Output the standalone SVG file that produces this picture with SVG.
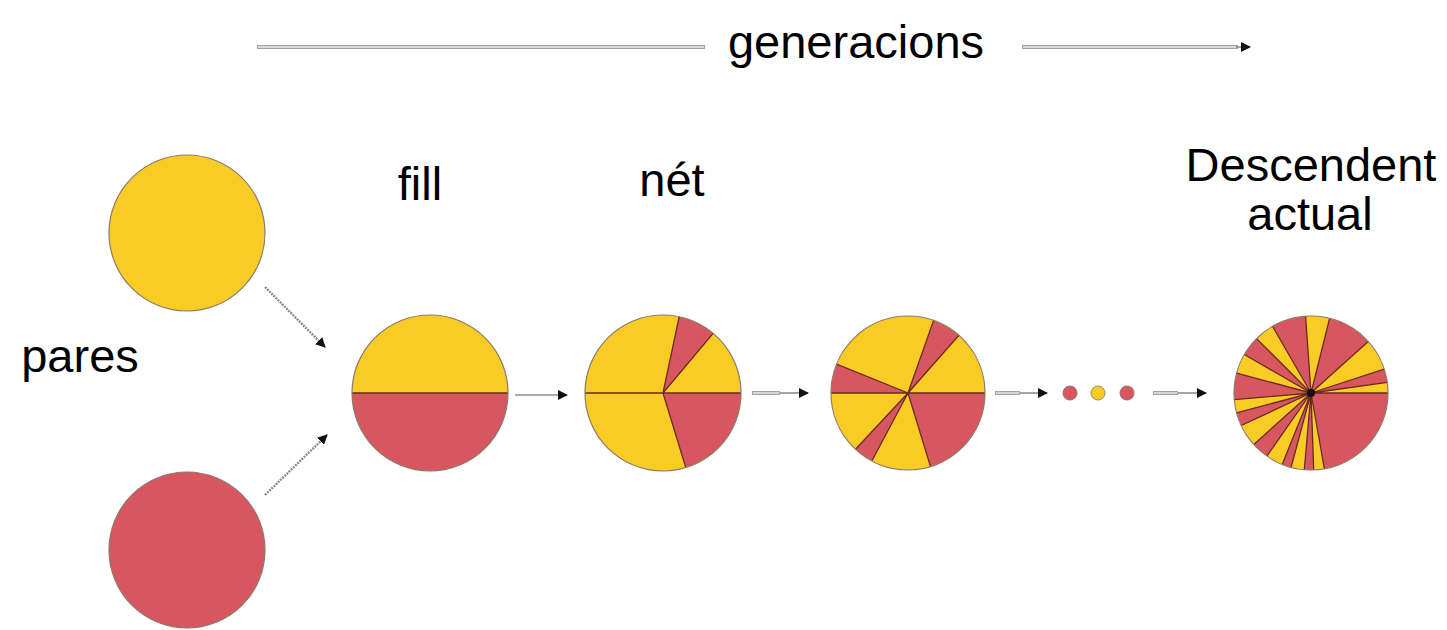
<svg xmlns="http://www.w3.org/2000/svg" width="1447" height="630" viewBox="0 0 1447 630">
  <style>
    .lbl { font-family: "Liberation Sans", Arial, sans-serif; font-size: 47px; fill: #000; }
    .yel { fill: #F9CC25; }
    .red { fill: #D8565F; }
    .rim { fill: none; stroke: #8a7a6a; stroke-width: 1.2; }
    .sep { stroke: #6a2a1e; stroke-width: 1.3; fill: none; }
    .tube-out { stroke: #a3a3a3; stroke-width: 4; fill: none; }
    .tube-in { stroke: #ececec; stroke-width: 1.4; fill: none; }
    .thin { stroke: #8f8f8f; stroke-width: 1.6; fill: none; }
    .dotted { stroke: #8c8c8c; stroke-width: 2.4; stroke-dasharray: 2 1; fill: none; }
  </style>
  <defs>
    <marker id="head" viewBox="0 0 10 10" refX="9" refY="5" markerWidth="10" markerHeight="10" markerUnits="userSpaceOnUse" orient="auto">
      <path d="M0 0 L10 5 L0 10 Z" fill="#111"/>
    </marker>
  </defs>

  <rect width="1447" height="630" fill="#fff"/>

  <!-- connectors -->
  <g id="connectors">
    <!-- generations axis -->
    <line class="tube-out" x1="257" y1="47" x2="705" y2="47"/>
    <line class="tube-in" x1="258" y1="47" x2="704" y2="47"/>
    <line class="tube-out" x1="1022" y1="47" x2="1238" y2="47"/>
    <line class="tube-in" x1="1023" y1="47" x2="1236" y2="47"/>
    <line class="thin" x1="1236" y1="47" x2="1250" y2="47" marker-end="url(#head)"/>

    <!-- parents to child -->
    <line class="dotted" x1="265" y1="287" x2="325" y2="347" marker-end="url(#head)"/>
    <line class="dotted" x1="265" y1="495" x2="327" y2="435" marker-end="url(#head)"/>

    <!-- generation steps -->
    <line class="thin" x1="515" y1="395" x2="567" y2="395" marker-end="url(#head)"/>
    <line class="tube-out" x1="752" y1="393" x2="780" y2="393"/>
    <line class="tube-in" x1="753" y1="393" x2="779" y2="393"/>
    <line class="thin" x1="780" y1="393" x2="808" y2="393" marker-end="url(#head)"/>
    <line class="tube-out" x1="995" y1="393" x2="1020" y2="393"/>
    <line class="tube-in" x1="996" y1="393" x2="1019" y2="393"/>
    <line class="thin" x1="1020" y1="393" x2="1047" y2="393" marker-end="url(#head)"/>
    <line class="tube-out" x1="1153" y1="393" x2="1178" y2="393"/>
    <line class="tube-in" x1="1154" y1="393" x2="1177" y2="393"/>
    <line class="thin" x1="1178" y1="393" x2="1206" y2="393" marker-end="url(#head)"/>
  </g>

  <!-- ellipsis dots -->
  <g id="ellipsis">
    <circle class="red" cx="1070" cy="393" r="7" stroke="#9a6a6a" stroke-width="1"/>
    <circle class="yel" cx="1098" cy="393" r="7" stroke="#9a8a5a" stroke-width="1"/>
    <circle class="red" cx="1127" cy="393" r="7" stroke="#9a6a6a" stroke-width="1"/>
  </g>

  <!-- labels -->
  <g id="labels">
    <text class="lbl" x="856" y="58" text-anchor="middle">generacions</text>
    <text class="lbl" x="420" y="200" text-anchor="middle">fill</text>
    <text class="lbl" x="672" y="196" text-anchor="middle">nét</text>
    <text class="lbl" x="80" y="372" text-anchor="middle">pares</text>
    <text class="lbl" x="1311" y="181" text-anchor="middle">Descendent</text>
    <text class="lbl" x="1310" y="230" text-anchor="middle">actual</text>
  </g>

  <!-- parents -->
  <g id="parent-yellow">
    <circle class="yel" cx="187" cy="233" r="78"/>
    <circle class="rim" cx="187" cy="233" r="78"/>
  </g>
  <g id="parent-red">
    <circle class="red" cx="187" cy="550" r="78"/>
    <circle class="rim" cx="187" cy="550" r="78"/>
  </g>

  <!-- child: half and half -->
  <g id="child">
    <circle class="yel" cx="430" cy="393" r="78"/>
    <path class="red" d="M352 393 A78 78 0 0 0 508 393 Z"/>
    <line class="sep" x1="352" y1="393" x2="508" y2="393"/>
    <circle class="rim" cx="430" cy="393" r="78"/>
  </g>

  <!-- grandchild -->
  <g id="grandchild">
    <circle class="yel" cx="663" cy="393" r="78"/>
    <path class="red" d="M663 393 L713.1 333.3 A78 78 0 0 0 679.2 316.7 Z"/>
    <path class="red" d="M663 393 L685.8 467.6 A78 78 0 0 0 741 393 Z"/>
    <path class="sep" d="M585 393 H741 M663 393 L713.1 333.3 M663 393 L679.2 316.7 M663 393 L685.8 467.6"/>
    <circle class="rim" cx="663" cy="393" r="78"/>
  </g>

  <!-- great-grandchild -->
  <g id="great-grandchild">
    <circle class="yel" cx="908" cy="393" r="77"/>
    <path class="red" d="M908 393 L958.9 335.2 A77 77 0 0 0 933.6 320.4 Z"/>
    <path class="red" d="M908 393 L836.6 364.2 A77 77 0 0 0 831 393 Z"/>
    <path class="red" d="M908 393 L855.5 449.3 A77 77 0 0 0 871.8 461 Z"/>
    <path class="red" d="M908 393 L930.5 466.6 A77 77 0 0 0 985 393 Z"/>
    <path class="sep" d="M831 393 H985 M908 393 L958.9 335.2 M908 393 L933.6 320.4 M908 393 L836.6 364.2 M908 393 L855.5 449.3 M908 393 L871.8 461 M908 393 L930.5 466.6"/>
    <circle class="rim" cx="908" cy="393" r="77"/>
  </g>

  <!-- current descendant -->
  <g id="current-descendant">
    <circle class="yel" cx="1311" cy="393" r="77"/>
    <path class="red" d="M1311 393 L1387.3 382.3 A77 77 0 0 0 1384.2 369.2 Z"/>
    <path class="red" d="M1311 393 L1368.2 341.5 A77 77 0 0 0 1329.6 318.3 Z"/>
    <path class="red" d="M1311 393 L1305.6 316.2 A77 77 0 0 0 1272.5 326.3 Z"/>
    <path class="red" d="M1311 393 L1256.6 338.6 A77 77 0 0 0 1244.3 354.5 Z"/>
    <path class="red" d="M1311 393 L1236.6 373.1 A77 77 0 0 0 1234.3 399.7 Z"/>
    <path class="red" d="M1311 393 L1236.6 412.9 A77 77 0 0 0 1241.2 425.5 Z"/>
    <path class="red" d="M1311 393 L1253.8 444.5 A77 77 0 0 0 1266.8 456.1 Z"/>
    <path class="red" d="M1311 393 L1282.2 464.4 A77 77 0 0 0 1291.1 467.4 Z"/>
    <path class="red" d="M1311 393 L1304.3 469.7 A77 77 0 0 0 1313.7 470 Z"/>
    <path class="red" d="M1311 393 L1324.4 468.8 A77 77 0 0 0 1388 393 Z"/>
    <path class="sep" d="M1311 393 H1388 M1311 393 L1387.3 382.3 M1311 393 L1384.2 369.2 M1311 393 L1368.2 341.5 M1311 393 L1329.6 318.3 M1311 393 L1305.6 316.2 M1311 393 L1272.5 326.3 M1311 393 L1256.6 338.6 M1311 393 L1244.3 354.5 M1311 393 L1236.6 373.1 M1311 393 L1234.3 399.7 M1311 393 L1236.6 412.9 M1311 393 L1241.2 425.5 M1311 393 L1253.8 444.5 M1311 393 L1266.8 456.1 M1311 393 L1282.2 464.4 M1311 393 L1291.1 467.4 M1311 393 L1304.3 469.7 M1311 393 L1313.7 470 M1311 393 L1324.4 468.8"/>
    <circle cx="1311" cy="393" r="4" fill="#111"/>
    <circle class="rim" cx="1311" cy="393" r="77"/>
  </g>
</svg>
